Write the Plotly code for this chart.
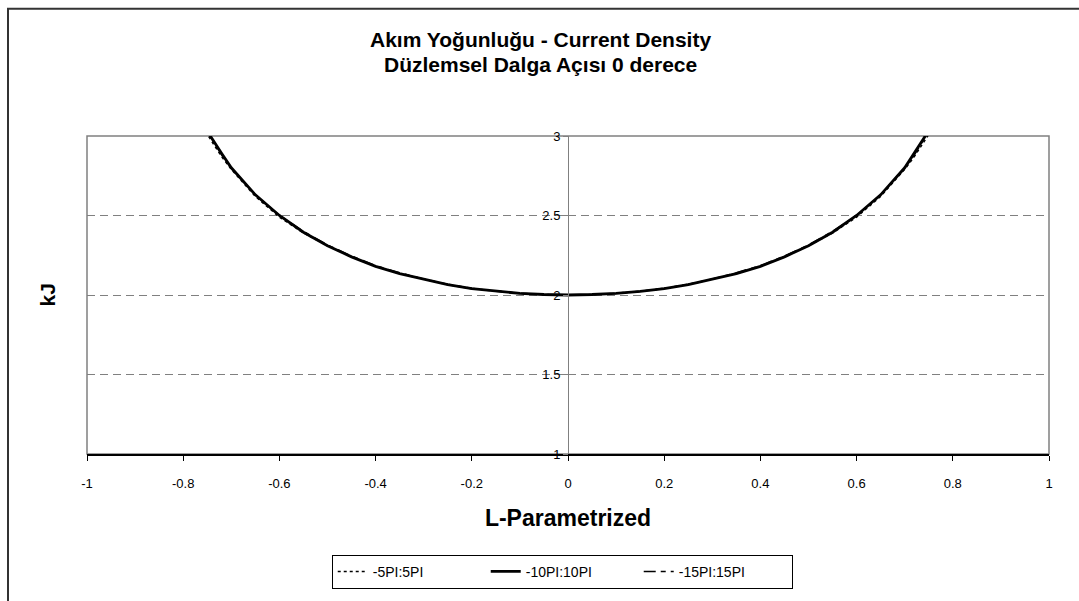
import plotly.graph_objects as go

# L-Parametrized values
L = [-0.76, -0.75, -0.72, -0.70, -0.65, -0.60, -0.55, -0.50, -0.45, -0.40, -0.35, -0.30,
     -0.25, -0.20, -0.15, -0.10, -0.05, 0.00, 0.05, 0.10, 0.15, 0.20, 0.25, 0.30,
     0.35, 0.40, 0.45, 0.50, 0.55, 0.60, 0.65, 0.70, 0.72, 0.75, 0.76]

# kJ values
kj_5pi = [3.06, 3.01, 2.87, 2.79, 2.62, 2.49, 2.39, 2.31, 2.24, 2.18, 2.135, 2.10,
          2.065, 2.04, 2.023, 2.01, 2.003, 2.00, 2.003, 2.01, 2.023, 2.04, 2.065, 2.10,
          2.135, 2.18, 2.24, 2.31, 2.39, 2.49, 2.62, 2.79, 2.87, 3.01, 3.06]
kj_10pi = [3.08, 3.03, 2.89, 2.80, 2.63, 2.50, 2.395, 2.31, 2.24, 2.18, 2.135, 2.10,
           2.065, 2.04, 2.023, 2.01, 2.003, 2.00, 2.003, 2.01, 2.023, 2.04, 2.065, 2.10,
           2.135, 2.18, 2.24, 2.31, 2.395, 2.50, 2.63, 2.80, 2.89, 3.03, 3.08]
kj_15pi = [3.08, 3.03, 2.88, 2.80, 2.63, 2.50, 2.40, 2.315, 2.245, 2.185, 2.14, 2.10,
           2.068, 2.042, 2.024, 2.011, 2.003, 2.00, 2.003, 2.011, 2.024, 2.042, 2.068, 2.10,
           2.14, 2.185, 2.245, 2.315, 2.40, 2.50, 2.63, 2.80, 2.88, 3.03, 3.08]

series_names = ["-5PI:5PI", "-10PI:10PI", "-15PI:15PI"]

x_ticks = [-1, -0.8, -0.6, -0.4, -0.2, 0, 0.2, 0.4, 0.6, 0.8, 1]
x_tick_labels = ["-1", "-0.8", "-0.6", "-0.4", "-0.2", "0", "0.2", "0.4", "0.6", "0.8", "1"]
y_ticks = [1, 1.5, 2, 2.5, 3]
y_tick_labels = ["1", "1.5", "2", "2.5", "3"]

FONT = "Liberation Sans, Arial, sans-serif"

fig = go.Figure()
fig.add_trace(go.Scatter(x=L, y=kj_5pi, mode="lines", name=series_names[0],
                         line=dict(color="black", width=1.5, dash="3px,3px")))
fig.add_trace(go.Scatter(x=L, y=kj_10pi, mode="lines", name=series_names[1],
                         line=dict(color="black", width=2.8)))
fig.add_trace(go.Scatter(x=L, y=kj_15pi, mode="lines", name=series_names[2],
                         line=dict(color="black", width=1.5, dash="12px,5px,5px,5px")))

fig.update_layout(
    width=1079, height=601,
    margin=dict(l=87, r=30, t=136, b=140),
    paper_bgcolor="white", plot_bgcolor="white",
    font=dict(family=FONT, color="black", size=13),
    showlegend=True,
    legend=dict(orientation="h", x=0.494, xanchor="center", y=-0.317, yanchor="top",
                bordercolor="black", borderwidth=1, bgcolor="white",
                font=dict(family=FONT, size=14, color="black"),
                entrywidth=108, entrywidthmode="pixels"),
    xaxis=dict(range=[-1, 1], tickvals=x_ticks, ticktext=x_tick_labels,
               showgrid=False, zeroline=False, showline=True, linecolor="black", linewidth=1.5,
               ticks="outside", ticklen=5, tickcolor="black", tickwidth=1,
               ticklabelstandoff=12,
               tickfont=dict(family=FONT, size=13, color="black"),
               title=dict(text="<b>L-Parametrized</b>", font=dict(family=FONT, size=23), standoff=20)),
    yaxis=dict(range=[1, 3], tickvals=y_ticks, ticktext=y_tick_labels,
               anchor="free", position=0.5,
               showgrid=True, gridcolor="#808080", gridwidth=1, griddash="8px,5px",
               zeroline=False, showline=True, linecolor="#808080", linewidth=1,
               ticks="outside", ticklen=5, tickcolor="#808080", tickwidth=1,
               tickfont=dict(family=FONT, size=13, color="black")),
    shapes=[
        dict(type="rect", xref="x domain", yref="y domain", x0=0, x1=1, y0=0, y1=1,
             line=dict(color="#808080", width=1.5), layer="below"),
        dict(type="rect", xref="paper", yref="paper",
             x0=(8 - 87) / 962, x1=1.2, y0=-2, y1=(461 - 6) / 325,
             line=dict(color="#333333", width=2), layer="below"),
    ],
    annotations=[
        dict(text="<b>Akım Yoğunluğu - Current Density</b>", xref="paper", yref="paper",
             x=(540 - 87) / 962, y=(461 - 37) / 325, showarrow=False,
             font=dict(family=FONT, size=21), xanchor="center", yanchor="middle"),
        dict(text="<b>Düzlemsel Dalga Açısı 0 derece</b>", xref="paper", yref="paper",
             x=(540 - 87) / 962, y=(461 - 63) / 325, showarrow=False,
             font=dict(family=FONT, size=21), xanchor="center", yanchor="middle"),
        dict(text="<b>kJ</b>", xref="paper", yref="paper",
             x=(47 - 87) / 962, y=(461 - 299) / 325, showarrow=False, textangle=-90,
             font=dict(family=FONT, size=21), xanchor="center", yanchor="middle"),
    ],
)

fig.write_html("out.html")
